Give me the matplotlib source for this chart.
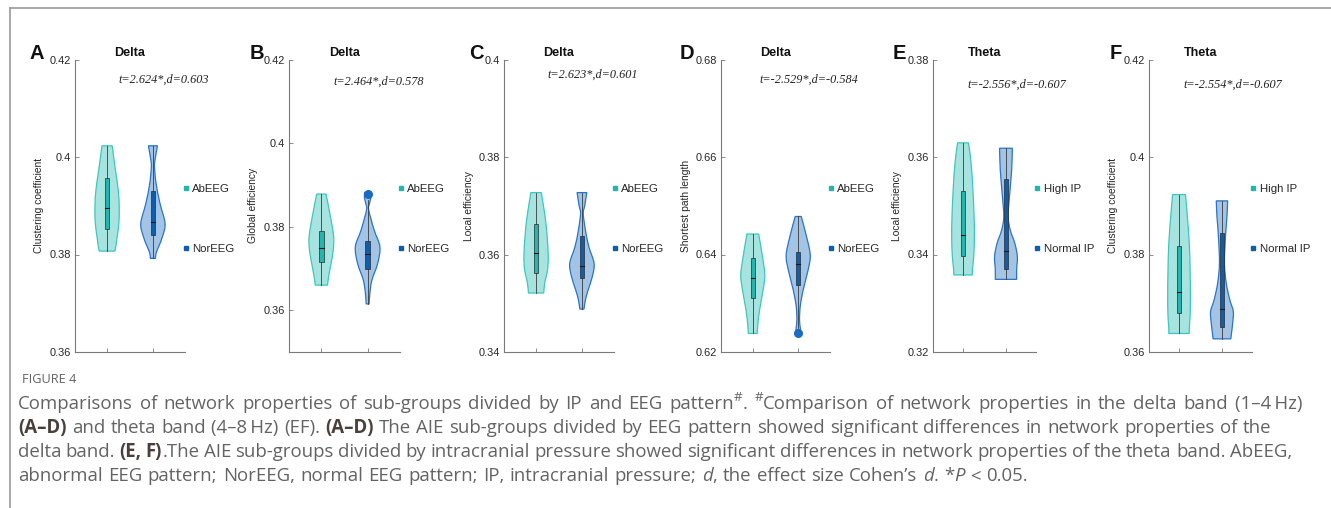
import matplotlib
matplotlib.use('Agg')
import matplotlib.pyplot as plt
from matplotlib.path import Path
from matplotlib.patches import PathPatch, Rectangle
from matplotlib.lines import Line2D
from matplotlib.ticker import FuncFormatter

W, H = 1331, 508
fig = plt.figure(figsize=(W / 100, H / 100), dpi=100)

# ---------------- data ----------------
panel_letters = ['A', 'B', 'C', 'D', 'E', 'F']
band_titles = ['Delta', 'Delta', 'Delta', 'Delta', 'Theta', 'Theta']
y_labels = ['Clustering coefficient', 'Global efficiency', 'Local efficiency',
            'Shortest path length', 'Local efficiency', 'Clustering coefficient']
stat_texts = ['t=2.624*,d=0.603', 't=2.464*,d=0.578', 't=2.623*,d=0.601',
              't=-2.529*,d=-0.584', 't=-2.556*,d=-0.607', 't=-2.554*,d=-0.607']
group_labels = [['AbEEG', 'NorEEG']] * 4 + [['High IP', 'Normal IP']] * 2
y_limits = [(0.36, 0.42), (0.35, 0.42), (0.34, 0.40), (0.62, 0.68), (0.32, 0.38), (0.36, 0.42)]
y_ticks = [[0.36, 0.38, 0.40, 0.42], [0.36, 0.38, 0.40, 0.42], [0.34, 0.36, 0.38, 0.40],
           [0.62, 0.64, 0.66, 0.68], [0.32, 0.34, 0.36, 0.38], [0.36, 0.38, 0.40, 0.42]]

# violin outlines: y levels (top -> bottom) and relative half-widths
A1_y = [0.4023, 0.3973, 0.3932, 0.3898, 0.3864, 0.3837, 0.3816, 0.3807]
A1_w = [0.42, 0.69, 0.92, 1.00, 0.97, 0.83, 0.72, 0.64]
A2_y = [0.4023, 0.3995, 0.3980, 0.3946, 0.3905, 0.3864, 0.3837, 0.3816, 0.3803, 0.3792]
A2_w = [0.37, 0.18, 0.13, 0.26, 0.58, 1.00, 0.79, 0.47, 0.26, 0.21]
B1_y = [0.3878, 0.3824, 0.3776, 0.3744, 0.3712, 0.3680, 0.3660]
B1_w = [0.38, 0.74, 1.00, 0.97, 0.79, 0.59, 0.50]
B2_y = [0.3882, 0.3870, 0.3855, 0.3840, 0.3792, 0.3752, 0.3712, 0.3672, 0.3640, 0.3615]
B2_w = [0.24, 0.26, 0.15, 0.09, 0.53, 1.00, 0.82, 0.35, 0.18, 0.12]
C1_y = [0.3727, 0.3678, 0.3637, 0.3596, 0.3568, 0.3541, 0.3521]
C1_w = [0.43, 0.74, 0.91, 1.00, 0.94, 0.71, 0.63]
C2_y = [0.3727, 0.3700, 0.3684, 0.3650, 0.3616, 0.3582, 0.3555, 0.3527, 0.3507, 0.3488]
C2_w = [0.40, 0.23, 0.11, 0.29, 0.57, 1.00, 0.86, 0.51, 0.29, 0.17]
D1_y = [0.6442, 0.6396, 0.6358, 0.6328, 0.6287, 0.6259, 0.6238]
D1_w = [0.49, 0.80, 1.00, 0.86, 0.57, 0.43, 0.37]
D2_y = [0.6478, 0.6437, 0.6399, 0.6369, 0.6328, 0.6294, 0.6266, 0.6250, 0.6236]
D2_w = [0.25, 0.69, 1.00, 0.83, 0.42, 0.17, 0.11, 0.17, 0.22]
E1_y = [0.3629, 0.3587, 0.3532, 0.3478, 0.3437, 0.3396, 0.3372, 0.3358]
E1_w = [0.48, 0.71, 0.87, 0.97, 1.00, 0.94, 0.84, 0.81]
E2_y = [0.3618, 0.3573, 0.3519, 0.3478, 0.3450, 0.3423, 0.3396, 0.3369, 0.3349]
E2_w = [0.56, 0.50, 0.31, 0.19, 0.38, 0.78, 1.00, 0.94, 0.94]
F1_y = [0.3923, 0.3878, 0.3823, 0.3769, 0.3714, 0.3673, 0.3649, 0.3638]
F1_w = [0.57, 0.73, 0.90, 0.97, 1.00, 0.97, 0.90, 0.90]
F2_y = [0.3910, 0.3878, 0.3837, 0.3782, 0.3741, 0.3707, 0.3683, 0.3659, 0.3639, 0.3627]
F2_w = [0.50, 0.44, 0.31, 0.22, 0.38, 0.69, 1.00, 0.94, 0.84, 0.78]

# box statistics [group1, group2]
q1_vals = [[0.3852, 0.3840], [0.3715, 0.3698], [0.3562, 0.3551],
           [0.6311, 0.6338], [0.3397, 0.3370], [0.3680, 0.3651]]
median_vals = [[0.3895, 0.3866], [0.3750, 0.3735], [0.3604, 0.3577],
               [0.6352, 0.6380], [0.3439, 0.3408], [0.3723, 0.3688]]
q3_vals = [[0.3956, 0.3930], [0.3790, 0.3766], [0.3662, 0.3637],
           [0.6392, 0.6405], [0.3530, 0.3554], [0.3818, 0.3844]]
# whisker ends [low, high] where they differ from the violin ends
whisker_override = {(1, 1): (0.3615, 0.3864), (3, 1): (0.6250, 0.6478)}
outliers = {(1, 1): [0.3878], (3, 1): [0.6238]}

profiles = [[(A1_y, A1_w), (A2_y, A2_w)], [(B1_y, B1_w), (B2_y, B2_w)],
            [(C1_y, C1_w), (C2_y, C2_w)], [(D1_y, D1_w), (D2_y, D2_w)],
            [(E1_y, E1_w), (E2_y, E2_w)], [(F1_y, F1_w), (F2_y, F2_w)]]

# ---------------- style ----------------
fill_colors = ['#a7e4e0', '#a3c4e5']
edge_colors = ['#3ec6be', '#2a74c6']
box_colors = ['#22b6ae', '#0d5fae']
point_color = '#1a6cc2'
axis_color = '#7a7a7a'
text_color = '#262626'
SANS = 'Liberation Sans'

ax_left_px = [75, 289, 504, 721, 933, 1149]
ax_width_px = [110, 111, 110, 109, 103, 103]
ax_top_px, ax_bot_px = 59.5, 352
letter_x_px = [30, 250, 469, 680, 893, 1110]
stat_y_px = [80, 82, 75, 80, 85, 85]
HALF_W = 0.265
BOX_HW = 0.05


def smooth_side(pts):
    verts, codes = [], []
    n = len(pts)
    for i in range(n - 1):
        p0 = pts[i - 1] if i > 0 else pts[i]
        p1 = pts[i]
        p2 = pts[i + 1]
        p3 = pts[i + 2] if i + 2 < n else pts[i + 1]
        c1 = (p1[0] + (p2[0] - p0[0]) / 6.0, p1[1] + (p2[1] - p0[1]) / 6.0)
        c2 = (p2[0] - (p3[0] - p1[0]) / 6.0, p2[1] - (p3[1] - p1[1]) / 6.0)
        verts += [c1, c2, p2]
        codes += [Path.CURVE4] * 3
    return verts, codes


def violin_path(center, ys, ws):
    left = [(center - w * HALF_W, y) for y, w in zip(ys, ws)]
    right = [(center + w * HALF_W, y) for y, w in zip(ys, ws)][::-1]
    verts = [left[0]]
    codes = [Path.MOVETO]
    v, c = smooth_side(left)
    verts += v; codes += c
    verts.append(right[0]); codes.append(Path.LINETO)
    v, c = smooth_side(right)
    verts += v; codes += c
    verts.append(left[0]); codes.append(Path.CLOSEPOLY)
    return Path(verts, codes)


for p in range(6):
    l = ax_left_px[p] / W
    wdt = ax_width_px[p] / W
    b = (H - ax_bot_px) / H
    h = (ax_bot_px - ax_top_px) / H
    ax = fig.add_axes([l, b, wdt, h])
    ax.set_xlim(0.3, 2.7)
    ax.set_ylim(*y_limits[p])
    for g in range(2):
        pos = g + 1
        ys, ws = profiles[p][g]
        patch = PathPatch(violin_path(pos, ys, ws), facecolor=fill_colors[g],
                          edgecolor=edge_colors[g], lw=0.9, zorder=2)
        ax.add_patch(patch)
        lo, hi = whisker_override.get((p, g), (min(ys), max(ys)))
        ax.plot([pos, pos], [lo, hi], color='#3a3a3a', lw=0.6, zorder=3)
        q1, md, q3 = q1_vals[p][g], median_vals[p][g], q3_vals[p][g]
        ax.add_patch(Rectangle((pos - BOX_HW, q1), 2 * BOX_HW, q3 - q1,
                               facecolor=box_colors[g], edgecolor='#2a2a2a',
                               lw=0.5, zorder=4))
        ax.plot([pos - BOX_HW, pos + BOX_HW], [md, md], color='#1a1a1a', lw=0.8, zorder=5)
        if (p, g) in outliers:
            vals = outliers[(p, g)]
            ax.plot([pos] * len(vals), vals, 'o', color=point_color, ms=5.5,
                    mec=point_color, zorder=6, clip_on=False)

    for s in ['top', 'right']:
        ax.spines[s].set_visible(False)
    for s in ['left', 'bottom']:
        ax.spines[s].set_color(axis_color)
        ax.spines[s].set_linewidth(0.8)
    ax.set_xticks([1, 2])
    ax.set_xticklabels([])
    ax.set_yticks(y_ticks[p])
    ax.yaxis.set_major_formatter(FuncFormatter(lambda v, _: '%g' % round(v, 4)))
    ax.tick_params(direction='in', length=3, width=0.6, color=axis_color,
                   labelsize=7.9, labelcolor=text_color, pad=3)
    for t in ax.get_yticklabels():
        t.set_fontfamily(SANS)

    ax.set_ylabel(y_labels[p], fontsize=7.4, fontfamily=SANS, color=text_color)
    ax.yaxis.set_label_coords(-30.5 / ax_width_px[p], 0.5)

    ax.set_title(band_titles[p], fontsize=9.1, fontweight='bold', fontfamily=SANS,
                 color='#111111', pad=0)
    ax.title.set_position((0.5, 1.0 + 6.5 / (ax_bot_px - ax_top_px)))
    ax.title.set_va('baseline')

    fig.text(letter_x_px[p] / W, 1 - 59 / H, panel_letters[p], fontsize=14.5,
             fontweight='bold', fontfamily=SANS, color='#111111', ha='left', va='baseline')

    ax.text(0.81, (ax_bot_px - stat_y_px[p]) / (ax_bot_px - ax_top_px), stat_texts[p],
            transform=ax.transAxes, ha='center', va='center', fontsize=8.8,
            fontstyle='italic', fontfamily='Liberation Serif', color='#222222')

    handles = [Line2D([], [], marker='s', ls='none', color=box_colors[g], ms=3.2)
               for g in range(2)]
    leg = ax.legend(handles, group_labels[p], loc='center left',
                    bbox_to_anchor=(0.99, 0.455), frameon=False,
                    prop={'family': SANS, 'size': 8.2}, handlelength=0.4,
                    handletextpad=0.35, labelspacing=4.4, borderpad=0, borderaxespad=0)
    for t in leg.get_texts():
        t.set_color(text_color)

# ---------------- frame ----------------
frame_color = '#9a9a9a'
fig.add_artist(Line2D([10 / W, 1.0], [1 - 8 / H, 1 - 8 / H], color=frame_color, lw=1.2))
fig.add_artist(Line2D([10 / W, 10 / W], [0, 1 - 8 / H], color=frame_color, lw=1.2))

# ---------------- caption ----------------
cap_color = '#636363'
bold_color = '#4a3f3b'
cap_family = ['Open Sans', 'DejaVu Sans']
fig.text(22 / W, 1 - 383 / H, 'FIGURE 4', fontsize=9.2, color=cap_color,
         family=cap_family, ha='left', va='baseline')

caption_lines = [
    [('Comparisons of network properties of sub-groups divided by IP and EEG pattern', 'n'),
     ('#', 'sup'), ('. ', 'n'), ('#', 'sup'),
     ('Comparison of network properties in the delta band (1\u20134\u2009Hz)', 'n')],
    [('(A\u2013D)', 'b'), (' and theta band (4\u20138\u2009Hz) (EF). ', 'n'), ('(A\u2013D)', 'b'),
     (' The AIE sub-groups divided by EEG pattern showed significant differences in network properties of the', 'n')],
    [('delta band. ', 'n'), ('(E, F)', 'b'),
     ('.The AIE sub-groups divided by intracranial pressure showed significant differences in network properties of the theta band. AbEEG,', 'n')],
    [('abnormal EEG pattern; NorEEG, normal EEG pattern; IP, intracranial pressure; ', 'n'),
     ('d', 'i'), (', the effect size Cohen\u2019s ', 'n'), ('d', 'i'), ('. *', 'n'), ('P', 'i'),
     (' < 0.05.', 'n')],
]
caption_baselines = [409, 433, 457, 481]
caption_ends = [1302, 1271, 1292, None]   # last line is not justified
CAP_X0 = 18
CAP_SIZE = 13.4
renderer = fig.canvas.get_renderer()


def run_kwargs(style, size):
    kw = dict(fontsize=size, color=cap_color, family=cap_family)
    if style == 'b':
        kw['fontweight'] = 'bold'
        kw['color'] = bold_color
    if style == 'i':
        kw['fontstyle'] = 'italic'
    if style == 'sup':
        kw['fontsize'] = size * 0.72
    return kw


def text_width(s, kw):
    t1 = fig.text(0, 0, '|' + s + '|', **kw)
    t2 = fig.text(0, 0, '||', **kw)
    w = t1.get_window_extent(renderer).width - t2.get_window_extent(renderer).width
    t1.remove(); t2.remove()
    return w


def split_pieces(runs, size):
    pieces = []  # [text, style, space_after]
    for s, style in runs:
        parts = s.split(' ')
        for k, part in enumerate(parts):
            if part:
                pieces.append([part, style, False])
            if k < len(parts) - 1 and pieces:
                pieces[-1][2] = True
    pieces[-1][2] = False
    widths = [text_width(t, run_kwargs(st, size)) for t, st, _ in pieces]
    return pieces, widths


def draw_pieces(pieces, widths, x0, yb, size, space):
    x = x0
    for (t, st, sp), w in zip(pieces, widths):
        kw = run_kwargs(st, size)
        dy = size * 0.42 * 100 / 72 if st == 'sup' else 0
        fig.text(x / W, 1 - (yb - dy) / H, t, ha='left', va='baseline', **kw)
        x += w + (space if sp else 0)


laid = [split_pieces(r, CAP_SIZE) for r in caption_lines]
spaces = []
for (pieces, widths), xe in zip(laid, caption_ends):
    if xe is not None:
        n_sp = sum(1 for pc in pieces if pc[2])
        spaces.append((xe - CAP_X0 - sum(widths)) / max(n_sp, 1))
mean_space = sum(spaces) / len(spaces)
for i, ((pieces, widths), yb) in enumerate(zip(laid, caption_baselines)):
    sp = spaces[i] if caption_ends[i] is not None else mean_space
    draw_pieces(pieces, widths, CAP_X0, yb, CAP_SIZE, sp)

fig.savefig('out.png', dpi=100)
